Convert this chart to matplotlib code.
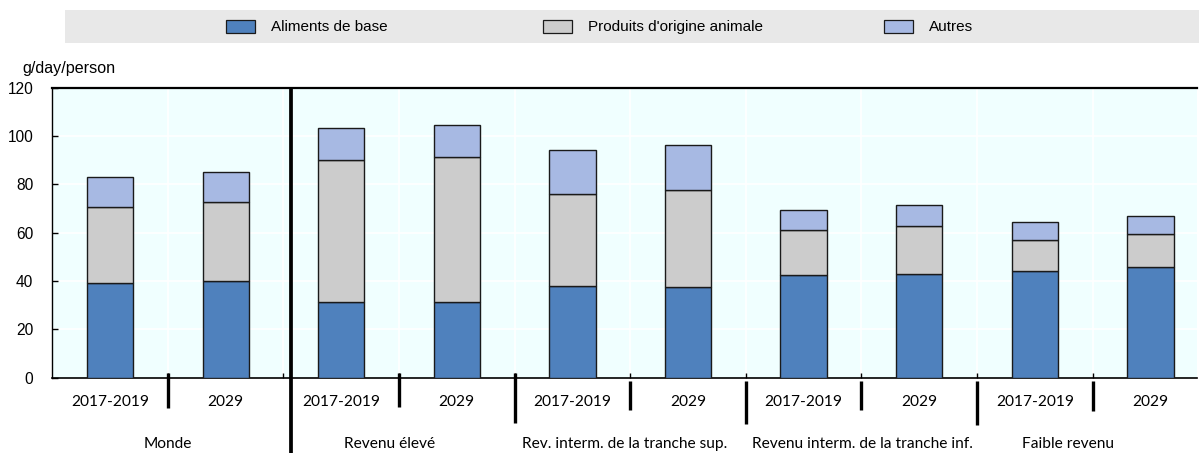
import matplotlib
matplotlib.use("Agg")
import matplotlib.pyplot as plt
import numpy as np
from matplotlib.patches import Rectangle

# ---- data -------------------------------------------------------------
periods = ["2017-2019", "2029"] * 5
groups = ["Monde", "Revenu élevé", "Rev. interm. de la tranche sup.",
          "Revenu interm. de la tranche inf.", "Faible revenu"]
staples = [39.2, 39.9, 31.1, 31.1, 38.1, 37.7, 42.4, 42.8, 44.1, 45.8]
animal = [31.2, 32.6, 59.0, 60.0, 37.7, 40.0, 18.5, 20.0, 12.9, 13.6]
others = [12.6, 12.7, 13.3, 13.4, 18.2, 18.4, 8.4, 8.7, 7.5, 7.6]
series_names = ["Aliments de base", "Produits d'origine animale", "Autres"]
y_ticks = [0, 20, 40, 60, 80, 100, 120]

# ---- styling ----------------------------------------------------------
colors = ["#4F81BD", "#CCCCCC", "#A7B9E3"]
W, H = 1199, 453
SANS = ["Liberation Sans", "DejaVu Sans"]
CAT = ["Lato", "DejaVu Sans"]


def fx(px):
    return px / W


def fy(py):
    return 1 - py / H


fig = plt.figure(figsize=(W / 100, H / 100), dpi=100)
ax_left, ax_right, ax_top, ax_bot = 52, 1197, 87.5, 377.7
ax = fig.add_axes([fx(ax_left), fy(ax_bot), fx(ax_right - ax_left),
                   (ax_bot - ax_top) / H])
ax.set_facecolor("#F0FFFF")

x = np.arange(len(staples))
s = np.array(staples)
a = np.array(animal)
o = np.array(others)
bw = 0.40
ekw = dict(edgecolor="#1a1a1a", linewidth=1.0, zorder=3)
ax.bar(x, s, bw, color=colors[0], **ekw)
ax.bar(x, a, bw, bottom=s, color=colors[1], **ekw)
ax.bar(x, o, bw, bottom=s + a, color=colors[2], **ekw)

ax.set_xlim(-0.502, 9.403)
ax.set_ylim(0, 120)

# grid: white lines on the tinted background
bounds = np.arange(len(staples) - 1) + 0.5
for b in np.append(bounds, 9.5):
    ax.axvline(b, color="white", linewidth=1.2, zorder=1)
for t in y_ticks[1:-1]:
    ax.axhline(t, color="white", linewidth=1.2, zorder=1)

ax.spines["right"].set_visible(False)
ax.spines["top"].set_linewidth(1.6)
ax.spines["left"].set_linewidth(1.0)
ax.spines["bottom"].set_linewidth(1.2)

ax.set_yticks(y_ticks)
ax.set_yticklabels([str(t) for t in y_ticks], fontfamily=SANS, fontsize=11.2)
ax.tick_params(axis="y", direction="in", length=4.5, width=1.0, pad=13.5)
ax.set_xticks(bounds)
ax.set_xticklabels([])
ax.tick_params(axis="x", direction="in", length=3.5, width=1.0)

# category labels
xt = ax.get_xaxis_transform()


def ay(py):
    return (ax_bot - py) / (ax_bot - ax_top)


for xi, p in zip(x, periods):
    ax.text(xi, ay(402), p, transform=xt, ha="center", va="center",
            fontfamily=CAT, fontsize=11.2, clip_on=False)

group_label_x = [0.5, 2.42, 4.45, 6.51, 8.29]
for gx, g in zip(group_label_x, groups):
    ax.text(gx, ay(444), g, transform=xt, ha="center", va="center",
            fontfamily=CAT, fontsize=11.2, clip_on=False)

# separators under the category axis
sep_style = dict(color="black", linewidth=2.4, solid_capstyle="butt",
                 clip_on=False, zorder=5)
sep = [(0.5, 373, 408), (2.5, 373, 407), (3.5, 373, 423), (4.5, 381, 410),
       (5.5, 381, 424), (6.5, 381, 410), (7.5, 381, 425), (8.5, 381, 411)]
for sx, y0, y1 in sep:
    ax.plot([sx, sx], [ay(y0), ay(y1)], transform=xt, **sep_style)

# divider between the world and the income groups
ax.plot([1.565, 1.565], [ay(ax_top), ay(H + 2)], transform=xt,
        color="black", linewidth=2.7, solid_capstyle="butt",
        clip_on=False, zorder=6)

# unit label
fig.text(fx(22), fy(68), "g/day/person", ha="left", va="center",
         fontfamily=SANS, fontsize=11.6)

# legend band
fig.add_artist(Rectangle((fx(65), fy(43)), fx(W - 65 + 5), 33 / H,
                         transform=fig.transFigure, facecolor="#E8E8E8",
                         edgecolor="none", zorder=0))
legend_px = [226, 543, 884]
for lx, name, c in zip(legend_px, series_names, colors):
    fig.add_artist(Rectangle((fx(lx), fy(32.5)), fx(29), 12 / H,
                             transform=fig.transFigure, facecolor=c,
                             edgecolor="#1a1a1a", linewidth=0.9, zorder=2))
    fig.text(fx(lx + 45), fy(27), name, ha="left", va="center",
             fontfamily=SANS, fontsize=11.0, zorder=3)

fig.savefig("out.png", dpi=100)
